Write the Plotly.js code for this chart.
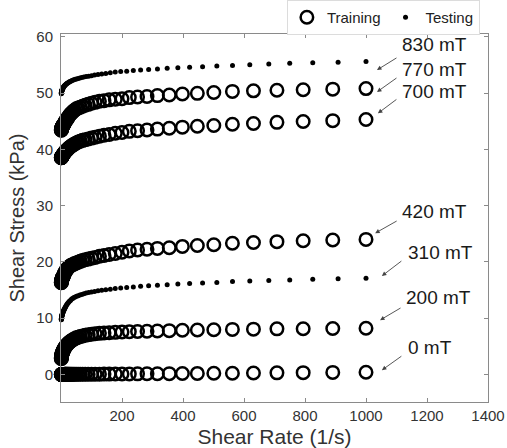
<!DOCTYPE html>
<html>
<head>
<meta charset="utf-8">
<script src="https://cdn.plot.ly/plotly-3.0.1.min.js"></script>
<style>html,body{margin:0;padding:0;background:#fff;}#chart{width:507px;height:448px;}</style>
</head>
<body>
<div id="chart"></div>
<script>
// ---- data ----
const shearRateTrain = [1, 1.12, 1.26, 1.41, 1.58, 1.78, 2.0, 2.24, 2.51, 2.82,
  3.16, 3.55, 3.98, 4.47, 5.01, 5.62, 6.31, 7.08, 7.94, 8.91,
  10, 11.2, 12.6, 14.1, 15.8, 17.8, 20.0, 22.4, 25.1, 28.2,
  31.6, 35.5, 39.8, 44.7, 50.1, 56.2, 63.1, 70.8, 79.4, 89.1,
  100, 112, 126, 141, 158, 178, 200, 224, 251, 282,
  316, 355, 398, 447, 501, 562, 631, 708, 794, 891, 1000];

const stress0mT = [0, 0, 0, 0, 0, 0, 0, 0, 0, 0,
  0, 0, 0, 0, 0, 0, 0, 0, 0, 0,
  0, 0, 0.01, 0.01, 0.01, 0.01, 0.01, 0.01, 0.01, 0.01,
  0.01, 0.01, 0.02, 0.02, 0.02, 0.02, 0.03, 0.03, 0.03, 0.04,
  0.04, 0.045, 0.05, 0.055, 0.06, 0.07, 0.08, 0.09, 0.1, 0.11,
  0.13, 0.14, 0.16, 0.18, 0.2, 0.22, 0.25, 0.28, 0.32, 0.36, 0.4];

const stress200mT = [2.8, 2.9, 2.95, 3.05, 3.1, 3.2, 3.3, 3.35, 3.45, 3.5,
  3.6, 3.7, 3.75, 3.85, 3.9, 4.0, 4.1, 4.2, 4.3, 4.4,
  4.5, 4.63, 4.77, 4.9, 5.03, 5.17, 5.3, 5.45, 5.6, 5.75,
  5.9, 6.05, 6.2, 6.35, 6.5, 6.62, 6.74, 6.85, 6.95, 7.05,
  7.13, 7.22, 7.3, 7.36, 7.42, 7.48, 7.54, 7.6, 7.63, 7.68,
  7.73, 7.78, 7.85, 7.9, 7.95, 8.0, 8.05, 8.1, 8.13, 8.17, 8.2];

const stress420mT = [16.3, 16.35, 16.4, 16.5, 16.55, 16.6, 16.7, 16.75, 16.8, 16.9,
  16.95, 17.0, 17.1, 17.15, 17.2, 17.3, 17.35, 17.4, 17.5, 17.6,
  17.8, 17.95, 18.1, 18.25, 18.4, 18.6, 18.75, 18.9, 19.05, 19.2,
  19.35, 19.45, 19.55, 19.7, 19.8, 19.95, 20.1, 20.25, 20.4, 20.5,
  20.65, 20.8, 21.0, 21.15, 21.3, 21.5, 21.7, 21.95, 22.1, 22.25,
  22.4, 22.5, 22.75, 22.9, 23.05, 23.3, 23.45, 23.6, 23.75, 23.9, 24.0];

const stress700mT = [38.5, 38.52, 38.55, 38.57, 38.6, 38.62, 38.64, 38.66, 38.68, 38.7,
  38.73, 38.76, 38.8, 38.85, 38.9, 38.95, 39.0, 39.08, 39.15, 39.22,
  39.3, 39.4, 39.5, 39.6, 39.7, 39.8, 39.9, 40.05, 40.2, 40.35,
  40.5, 40.65, 40.8, 40.95, 41.15, 41.3, 41.45, 41.6, 41.7, 41.85,
  42.0, 42.15, 42.35, 42.5, 42.65, 42.85, 43.0, 43.2, 43.3, 43.45,
  43.6, 43.75, 43.95, 44.1, 44.25, 44.45, 44.6, 44.8, 44.95, 45.1, 45.3];

const stress770mT = [43.4, 43.45, 43.5, 43.55, 43.6, 43.65, 43.7, 43.75, 43.8, 43.85,
  43.9, 43.95, 44.0, 44.05, 44.1, 44.15, 44.2, 44.3, 44.35, 44.4,
  44.5, 44.65, 44.8, 44.95, 45.1, 45.25, 45.4, 45.6, 45.85, 46.05,
  46.3, 46.5, 46.75, 46.95, 47.2, 47.35, 47.5, 47.65, 47.85, 48.0,
  48.2, 48.35, 48.55, 48.65, 48.8, 48.9, 49.0, 49.2, 49.3, 49.4,
  49.55, 49.65, 49.85, 49.95, 50.1, 50.3, 50.4, 50.5, 50.6, 50.7, 50.8];

const shearRateTest = [1.0, 1.101, 1.212, 1.334, 1.468, 1.616, 1.778, 1.957, 2.154, 2.371,
  2.61, 2.873, 3.162, 3.481, 3.831, 4.217, 4.642, 5.109, 5.623, 6.19,
  6.813, 7.499, 8.254, 9.085, 10, 11.01, 12.12, 13.34, 14.68, 16.16,
  17.78, 19.57, 21.54, 23.71, 26.1, 28.73, 31.62, 34.81, 38.31, 42.17,
  46.42, 51.09, 56.23, 61.9, 68.13, 74.99, 82.54, 90.85, 100, 110.1,
  121.2, 133.4, 146.8, 161.6, 177.8, 195.7, 215.4, 237.1, 261.0, 287.3,
  316.2, 348.1, 383.1, 421.7, 464.2, 510.9, 562.3, 619.0, 681.3, 749.9,
  825.4, 908.5, 1000];

const stress310mT = [9.7, 9.8, 9.85, 9.9, 10.0, 10.05, 10.1, 10.2, 10.25, 10.3,
  10.35, 10.45, 10.5, 10.55, 10.65, 10.7, 10.8, 10.85, 10.95, 11.0,
  11.1, 11.2, 11.3, 11.4, 11.5, 11.6, 11.75, 11.85, 12.0, 12.15,
  12.3, 12.45, 12.6, 12.75, 12.9, 13.05, 13.2, 13.4, 13.5, 13.65,
  13.75, 13.9, 14.0, 14.1, 14.2, 14.35, 14.45, 14.55, 14.65, 14.75,
  14.85, 14.95, 15.05, 15.15, 15.25, 15.35, 15.45, 15.55, 15.65, 15.75,
  15.85, 15.95, 16.05, 16.15, 16.25, 16.35, 16.5, 16.6, 16.7, 16.8,
  16.9, 17.0, 17.1];

const stress830mT = [49.9, 49.95, 50.0, 50.05, 50.1, 50.15, 50.2, 50.25, 50.3, 50.35,
  50.4, 50.45, 50.5, 50.55, 50.6, 50.65, 50.7, 50.75, 50.8, 50.9,
  50.95, 51.0, 51.05, 51.15, 51.2, 51.3, 51.35, 51.4, 51.5, 51.55,
  51.65, 51.7, 51.8, 51.85, 51.95, 52.0, 52.1, 52.2, 52.3, 52.35,
  52.45, 52.5, 52.6, 52.7, 52.75, 52.85, 52.95, 53.0, 53.1, 53.2,
  53.3, 53.4, 53.5, 53.6, 53.75, 53.85, 53.9, 54.0, 54.1, 54.2,
  54.3, 54.4, 54.5, 54.6, 54.7, 54.8, 54.9, 55.05, 55.15, 55.3,
  55.4, 55.5, 55.6];

const trainingSeries = [stress0mT, stress200mT, stress420mT, stress700mT, stress770mT];
const testingSeries = [stress310mT, stress830mT];
const legendNames = ['Training', 'Testing'];
const fieldLabels = ['830 mT', '770 mT', '700 mT', '420 mT', '310 mT', '200 mT', '0 mT'];
const xTicks = [200, 400, 600, 800, 1000, 1200, 1400];
const yTicks = [0, 10, 20, 30, 40, 50, 60];

// ---- traces ----
const FONT = 'Liberation Sans, Arial, sans-serif';
const traces = [];
trainingSeries.forEach((ys, i) => {
  traces.push({
    x: shearRateTrain, y: ys, type: 'scatter', mode: 'markers',
    name: legendNames[0], legendgroup: 'train', showlegend: i === 0,
    cliponaxis: false,
    marker: {symbol: 'circle-open', size: 12.5, color: '#000', line: {width: 2.5, color: '#000'}}
  });
});
testingSeries.forEach((ys, i) => {
  traces.push({
    x: shearRateTest, y: ys, type: 'scatter', mode: 'markers',
    name: legendNames[1], legendgroup: 'test', showlegend: i === 0,
    cliponaxis: false,
    marker: {symbol: 'circle', size: 5, color: '#000'}
  });
});

// ---- annotations (label text + arrows) ----
const labelPos = [[1113, 58.6], [1113, 54.2], [1113, 50.3], [1113, 29.0], [1130, 21.7], [1123, 13.7], [1130, 4.8]];
const arrowPos = [[1036, 54.1, 21, -13], [1036, 50.2, 21, -15], [1039, 46.4, 20, -15], [1030, 25.1, 23, -13],
                  [1052, 17.5, 21, -16], [1046, 9.65, 22, -13], [1052, 0.76, 21, -15]];
const annotations = [];
fieldLabels.forEach((t, i) => {
  annotations.push({
    xref: 'x', yref: 'y', x: labelPos[i][0], y: labelPos[i][1], text: t, showarrow: false,
    xanchor: 'left', yanchor: 'middle', font: {family: FONT, size: 19, color: '#1a1a1a'}
  });
  annotations.push({
    xref: 'x', yref: 'y', x: arrowPos[i][0], y: arrowPos[i][1], ax: arrowPos[i][2], ay: arrowPos[i][3],
    text: ' ', showarrow: true, arrowhead: 2, arrowsize: 1, arrowwidth: 0.9, arrowcolor: '#444',
    font: {size: 1}
  });
});

const axisCommon = {
  showline: true, linecolor: '#8a8a8a', linewidth: 1, mirror: 'ticks',
  ticks: 'inside', ticklen: 4, tickcolor: '#8a8a8a', showgrid: false, zeroline: false,
  tickfont: {family: FONT, size: 15, color: '#333'}
};

const layout = {
  width: 507, height: 448,
  margin: {l: 61, r: 19, t: 34, b: 46, autoexpand: false},
  paper_bgcolor: '#fff', plot_bgcolor: '#fff',
  font: {family: FONT, color: '#333'},
  xaxis: Object.assign({}, axisCommon, {
    range: [0, 1400], tickmode: 'array', tickvals: xTicks,
    title: {text: 'Shear Rate (1/s)', font: {family: FONT, size: 21, color: '#333'}, standoff: 6}
  }),
  yaxis: Object.assign({}, axisCommon, {
    range: [-4.9, 60.5], tickmode: 'array', tickvals: yTicks, ticklabelstandoff: 4,
    title: {text: 'Shear Stress (kPa)', font: {family: FONT, size: 20, color: '#333'}, standoff: 6}
  }),
  showlegend: true,
  legend: {
    orientation: 'h', x: 0.981, xanchor: 'right', y: 1.0448, yanchor: 'middle',
    bgcolor: '#fff', bordercolor: '#dcdcdc', borderwidth: 1,
    font: {family: FONT, size: 15, color: '#222'}
  },
  annotations: annotations
};

Plotly.newPlot('chart', traces, layout, {displayModeBar: false, staticPlot: true});
</script>
</body>
</html>
